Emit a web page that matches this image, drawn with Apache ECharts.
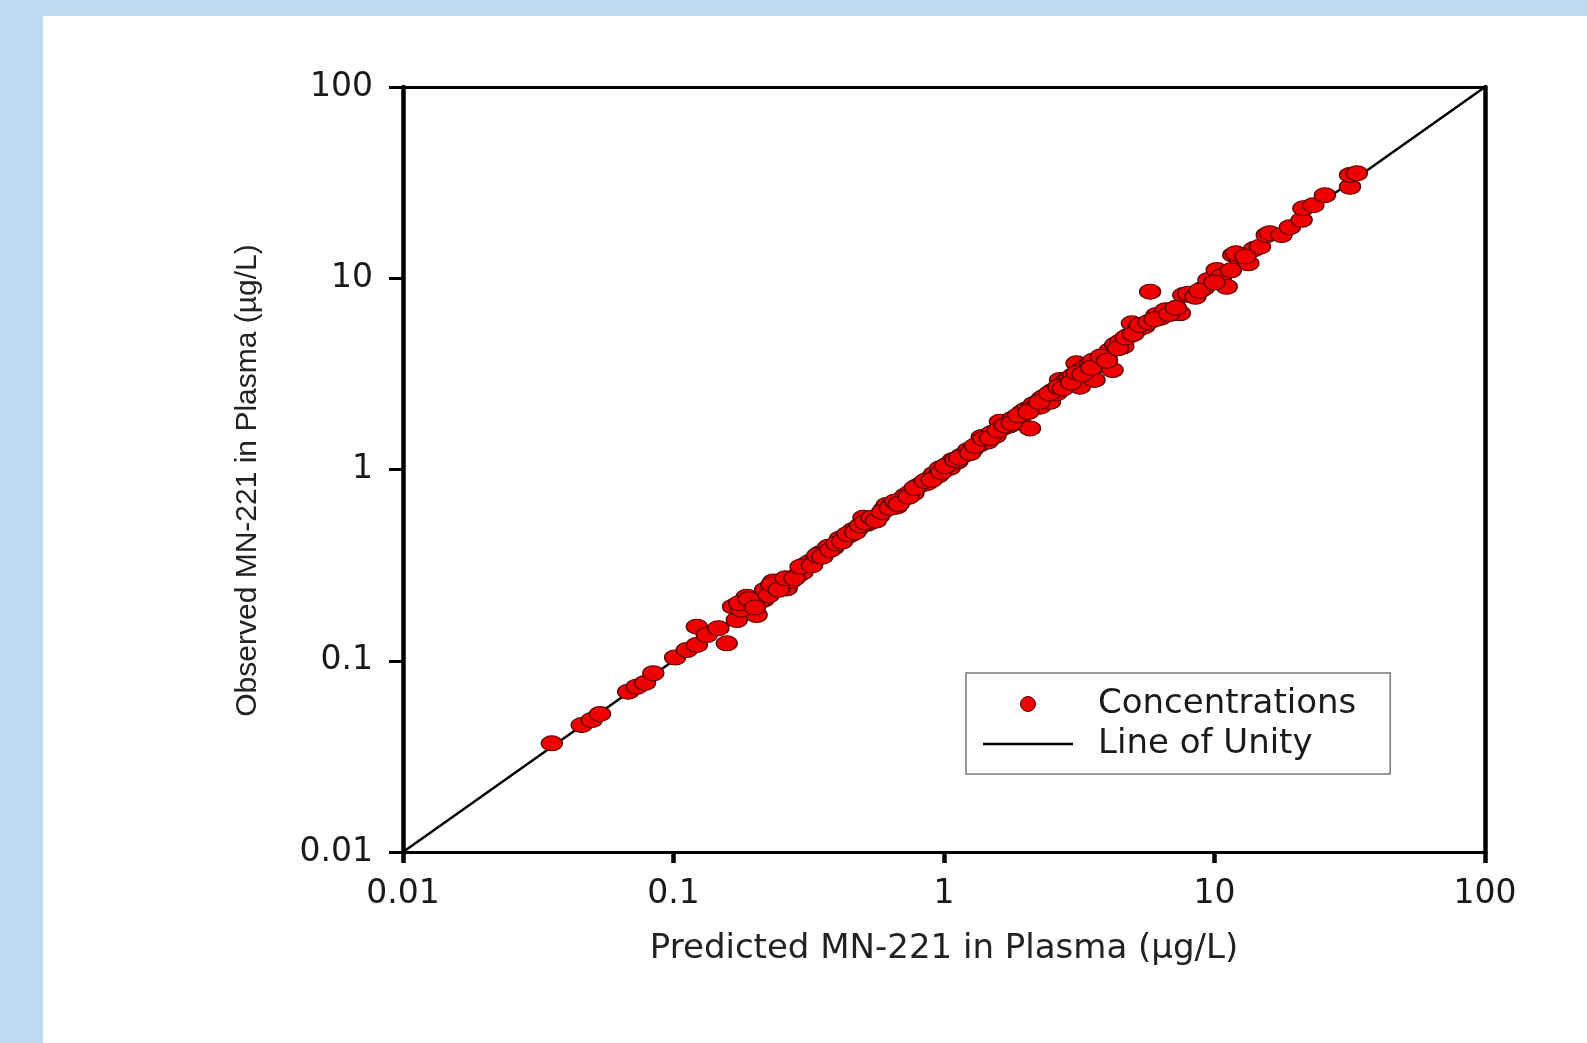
<!DOCTYPE html>
<html>
<head>
<meta charset="utf-8">
<script src="https://cdn.jsdelivr.net/npm/echarts@6/dist/echarts.min.js"></script>
<style>
  html, body { margin: 0; padding: 0; width: 1587px; height: 1043px; background: #bddaf3; overflow: hidden; }
  #chart { position: absolute; left: 43px; top: 16px; width: 1544px; height: 1027px; background: #ffffff; }
</style>
</head>
<body>
<div id="chart"></div>
<script>
// ---- data ----
const predicted = [
  0.0355, 0.0458, 0.0499, 0.0535, 0.068, 0.0731, 0.0785, 0.0842, 0.1014, 0.112,
  0.122, 0.122, 0.1327, 0.1466, 0.1574, 0.1714, 0.166, 0.1837, 0.1866, 0.2029,
  0.2148, 0.195, 0.178, 0.208, 0.218, 0.234, 0.262, 0.25, 0.238, 0.272,
  0.289, 0.30, 0.31, 0.32, 0.335, 0.348, 0.36, 0.374, 0.39, 0.413,
  0.43, 0.45, 0.462, 0.48, 0.504, 0.52, 0.533, 0.55, 0.575, 0.60,
  0.614, 0.64, 0.668, 0.70, 0.72, 0.75, 0.771, 0.80, 0.83, 0.863,
  0.89, 0.92, 0.95, 0.967, 1.0, 1.03, 1.05, 1.08, 1.12, 1.16,
  1.2, 1.23, 1.28, 1.38, 1.35, 1.42, 1.45, 1.5, 1.55, 1.61,
  1.65, 1.7, 1.75, 1.8, 1.85, 1.91, 1.95, 2.0, 2.08, 2.1,
  2.15, 2.2, 2.265, 2.3, 2.35, 2.4, 2.466, 2.5, 2.55, 2.6,
  2.686, 2.7, 2.8, 2.85, 2.92, 3.0, 3.09, 3.18, 3.2, 3.3,
  3.4, 3.47, 3.55, 3.65, 3.6, 4.2, 3.99, 4.1, 4.3, 4.48,
  4.6, 4.8, 4.95, 5.2, 5.5, 5.78, 6.11, 6.3, 6.6, 7.0,
  7.45, 7.67, 8.0, 8.5, 9.1, 9.5, 10.19, 10.6, 11.1, 11.74,
  12.3, 13.34, 14.0, 14.73, 15.6, 16.0, 17.7, 19.0, 21.0, 21.3,
  23.2, 25.6, 31.7, 31.7, 33.6,
  0.175, 0.19, 0.2, 0.225, 0.23, 0.245, 0.26, 0.28, 0.295, 0.325,
  0.34, 0.355, 0.38, 0.40, 0.42, 0.44, 0.47, 0.49, 0.51, 0.54,
  0.56, 0.59, 0.63, 0.66, 0.68, 0.74, 0.78, 0.85, 0.90, 0.98,
  1.01, 1.1, 1.14, 1.25, 1.3, 1.4, 1.48, 1.58, 1.68, 1.78,
  1.88, 2.05, 2.25, 2.45, 2.65, 2.75, 2.95, 3.1, 3.25, 3.5,
  3.8, 4.0, 4.4, 4.7, 5.0, 5.3, 5.7, 6.0, 6.8, 7.2,
  8.8, 10.0, 11.5, 12.0, 13.0
];
const observed = [
  0.037, 0.0461, 0.049, 0.0527, 0.0689, 0.0731, 0.0766, 0.086, 0.104, 0.1138,
  0.121, 0.1507, 0.1364, 0.148, 0.1233, 0.1633, 0.1918, 0.1918, 0.2163, 0.1734,
  0.208, 0.2, 0.185, 0.205, 0.2344, 0.26, 0.239, 0.25, 0.245, 0.262,
  0.281, 0.29, 0.32, 0.3296, 0.34, 0.365, 0.37, 0.395, 0.39, 0.436,
  0.44, 0.455, 0.483, 0.49, 0.56, 0.52, 0.533, 0.55, 0.57, 0.62,
  0.652, 0.65, 0.639, 0.70, 0.73, 0.76, 0.751, 0.82, 0.84, 0.848,
  0.90, 0.95, 0.93, 1.014, 1.0, 1.06, 1.02, 1.122, 1.1, 1.18,
  1.2, 1.265, 1.28, 1.48, 1.35, 1.42, 1.4, 1.55, 1.5, 1.778,
  1.65, 1.72, 1.7, 1.85, 1.8, 1.853, 2.0, 2.05, 1.64, 2.1,
  2.2, 2.15, 2.13, 2.35, 2.4, 2.3, 2.26, 2.55, 2.6, 2.5,
  2.94, 2.75, 2.8, 2.95, 3.0, 3.1, 3.59, 2.71, 3.3, 3.4,
  3.2, 3.59, 3.7, 3.45, 2.94, 3.31, 3.81, 4.2, 4.5, 4.66,
  4.4, 5.0, 5.81, 5.4, 5.6, 8.51, 6.43, 6.2, 6.8, 6.6,
  6.56, 8.17, 8.3, 8.0, 8.85, 9.8, 11.04, 10.2, 9.03, 13.24,
  12.8, 11.97, 14.2, 14.62, 16.83, 17.2, 16.83, 18.5, 20.2, 23.2,
  24.1, 27.2, 30.1, 34.7, 35.4,
  0.20, 0.21, 0.19, 0.22, 0.25, 0.235, 0.27, 0.27, 0.31, 0.315,
  0.355, 0.35, 0.38, 0.41, 0.42, 0.46, 0.47, 0.51, 0.53, 0.56,
  0.54, 0.60, 0.63, 0.68, 0.66, 0.72, 0.80, 0.87, 0.88, 0.97,
  1.04, 1.12, 1.15, 1.22, 1.33, 1.45, 1.46, 1.60, 1.70, 1.75,
  1.92, 2.0, 2.25, 2.5, 2.7, 2.65, 2.85, 3.2, 3.15, 3.4,
  3.9, 3.7, 4.3, 4.9, 5.1, 5.7, 5.9, 6.1, 6.5, 7.0,
  8.6, 9.5, 11.0, 13.5, 13.0
];
const unityX = [0.01, 100];
const unityY = [0.01, 100];
const xTickLabels = ['0.01', '0.1', '1', '10', '100'];
const yTickLabels = ['0.01', '0.1', '1', '10', '100'];
const xTitle = 'Predicted MN-221 in Plasma (\u00b5g/L)';
const yTitle = 'Observed MN-221 in Plasma (\u00b5g/L)';
const seriesNames = ['Concentrations', 'Line of Unity'];

// ---- build ----
const scatterData = predicted.map((p, i) => [p, observed[i]]);
const unityData = unityX.map((x, i) => [x, unityY[i]]);
const labelFor = (arr) => (v) => arr[Math.round(Math.log10(v)) + 2] || '';

const chart = echarts.init(document.getElementById('chart'), null, { renderer: 'canvas' });
const option = {
  backgroundColor: '#ffffff',
  animation: false,
  grid: { left: 360, top: 71, right: 102, bottom: 191, containLabel: false },
  legend: {
    left: 923, top: 657,
    orient: 'vertical',
    data: [
      { name: seriesNames[0], icon: 'circle', itemStyle: { color: '#ee0000', borderColor: '#5a0000', borderWidth: 1 } },
      { name: seriesNames[1], icon: 'path://M0,0 L90,0 L90,2.5 L0,2.5 Z', itemStyle: { color: '#000000', borderWidth: 0 } }
    ],
    itemWidth: 90, itemHeight: 15, itemGap: 6,
    padding: [14, 34, 13, 17],
    borderColor: '#7a7a7a', borderWidth: 1.5,
    backgroundColor: '#ffffff',
    textStyle: { fontFamily: 'DejaVu Sans', fontSize: 34, color: '#1a1a1a', padding: [0, 0, 0, 20] },
    selectedMode: false
  },
  xAxis: [{
    type: 'log', logBase: 10, min: 0.01, max: 100, position: 'bottom',
    name: xTitle, nameLocation: 'middle', nameGap: 80,
    nameTextStyle: { fontFamily: 'DejaVu Sans', fontSize: 34, color: '#222' },
    axisLine: { show: true, onZero: false, lineStyle: { color: '#000', width: 3 } },
    axisTick: { show: true, inside: false, length: 11, lineStyle: { color: '#000', width: 4.5 } },
    minorTick: { show: false },
    axisLabel: { formatter: labelFor(xTickLabels), fontFamily: 'DejaVu Sans', fontSize: 33, color: '#1a1a1a', margin: 26 },
    splitLine: { show: false }
  }, {
    type: 'log', logBase: 10, min: 0.01, max: 100, position: 'top',
    axisLine: { show: true, onZero: false, lineStyle: { color: '#000', width: 3 } },
    axisTick: { show: false }, axisLabel: { show: false }, splitLine: { show: false }
  }],
  yAxis: [{
    type: 'log', logBase: 10, min: 0.01, max: 100, position: 'left',
    name: yTitle, nameLocation: 'middle', nameGap: 140,
    nameTextStyle: { fontFamily: 'Liberation Sans', fontSize: 30, color: '#222', padding: [0, 22, 0, 0] },
    axisLine: { show: true, onZero: false, lineStyle: { color: '#000', width: 4.5 } },
    axisTick: { show: true, inside: false, length: 14, lineStyle: { color: '#000', width: 3 } },
    axisLabel: { formatter: labelFor(yTickLabels), fontFamily: 'DejaVu Sans', fontSize: 33, color: '#1a1a1a', margin: 30 },
    splitLine: { show: false }
  }, {
    type: 'log', logBase: 10, min: 0.01, max: 100, position: 'right',
    axisLine: { show: true, onZero: false, lineStyle: { color: '#000', width: 4.5 } },
    axisTick: { show: false }, axisLabel: { show: false }, splitLine: { show: false }
  }],
  series: [{
    name: seriesNames[0],
    type: 'scatter',
    xAxisIndex: 0, yAxisIndex: 0,
    data: scatterData,
    symbol: 'circle',
    symbolSize: [21, 15],
    itemStyle: { color: '#ee0000', borderColor: '#5a0000', borderWidth: 1.2, opacity: 1 },
    z: 3
  }, {
    name: seriesNames[1],
    type: 'line',
    xAxisIndex: 0, yAxisIndex: 0,
    data: unityData,
    symbol: 'none',
    color: '#000000',
    lineStyle: { color: '#000', width: 2.5 },
    z: 2
  }]
};
chart.setOption(option);
</script>
</body>
</html>
